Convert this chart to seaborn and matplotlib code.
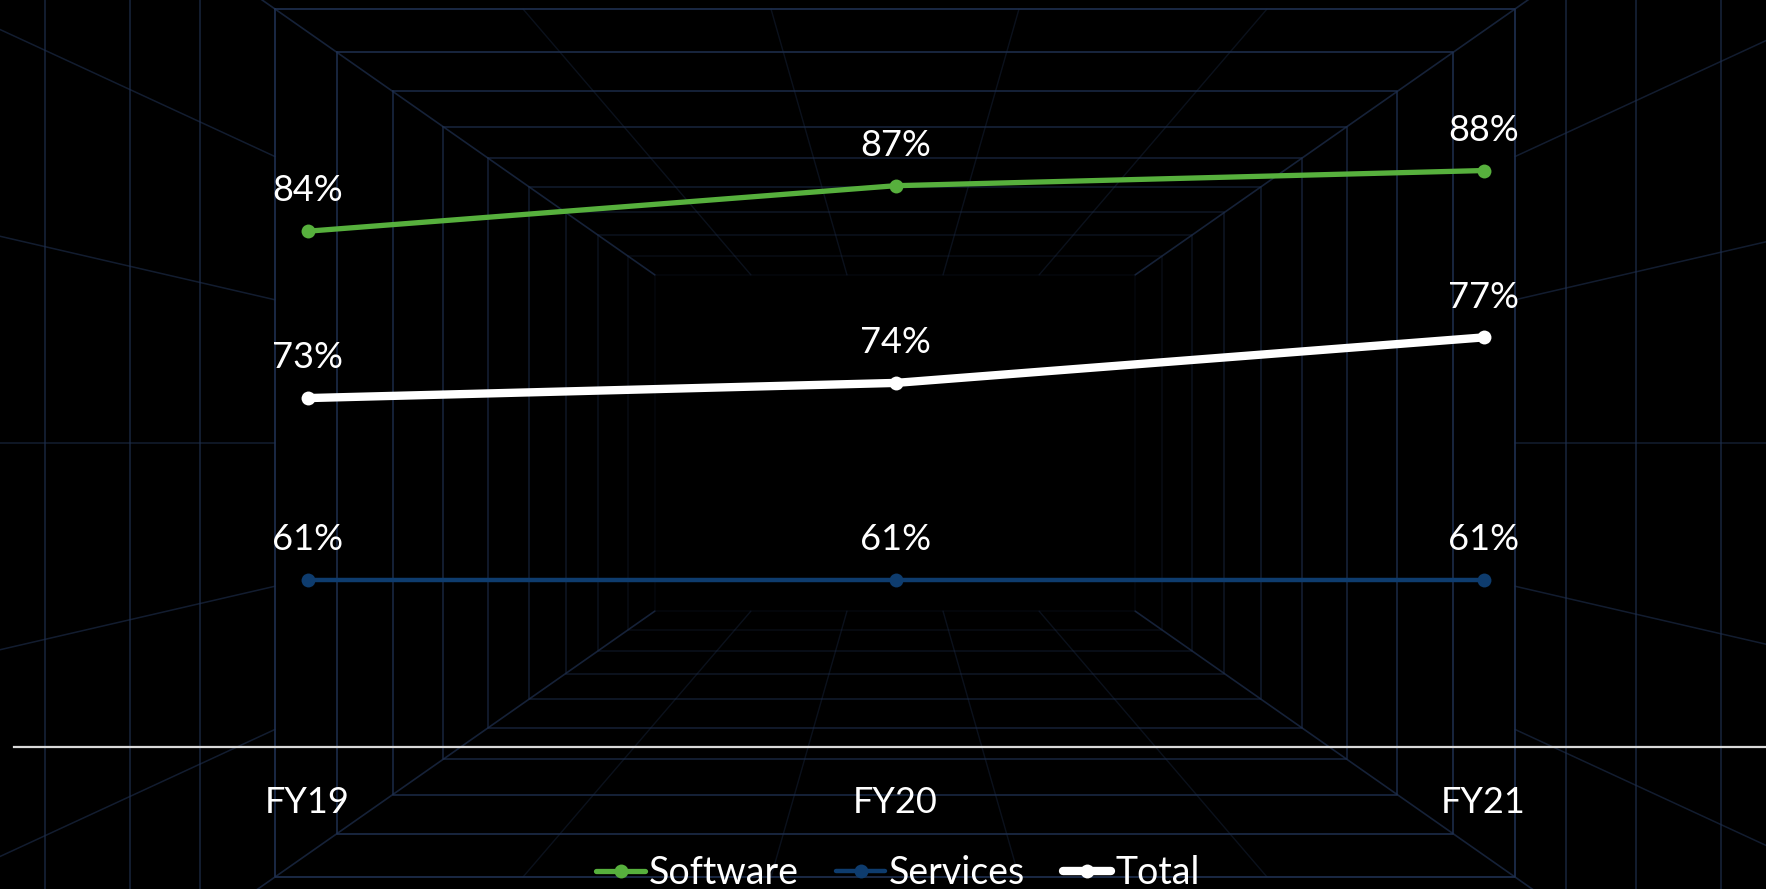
import numpy as np
import pandas as pd
import matplotlib
matplotlib.use("Agg")
import matplotlib.pyplot as plt
import seaborn as sns

# ---- data ----
years = ["FY19", "FY20", "FY21"]
software = [84, 87, 88]
services = [61, 61, 61]
total = [73, 74, 77]
series_names = ["Software", "Services", "Total"]

sns.set_theme(style="dark")
plt.rcParams["font.family"] = ["Lato", "DejaVu Sans"]

W, H = 1766, 889
fig = plt.figure(figsize=(W / 100, H / 100), dpi=100, facecolor="black")

# ---- decorative tunnel background ----
bg = fig.add_axes([0, 0, 1, 1], zorder=0)
bg.set_xlim(0, W)
bg.set_ylim(H, 0)
bg.set_facecolor("black")
bg.axis("off")
vx, vy = 895, 443
ratio = 0.70
gc = "#1f3050"
hw = 620.0
scales = []
while hw > 230:
    scales.append(hw)
    hw *= 0.9
n = len(scales)
for i, s in enumerate(scales):
    a = 0.95 * (1 - i / n) + 0.05
    bg.plot([vx - s, vx + s, vx + s, vx - s, vx - s],
            [vy - s * ratio, vy - s * ratio, vy + s * ratio, vy + s * ratio, vy - s * ratio],
            color=gc, lw=1.2, alpha=a)
inner = scales[-1]
outer = scales[0]
# corner diagonals and radial wall lines
for sx, sy in [(-1, -1), (1, -1), (-1, 1), (1, 1)]:
    bg.plot([vx + sx * inner, vx + sx * 1500], [vy + sy * inner * ratio, vy + sy * 1500 * ratio],
            color=gc, lw=1.2, alpha=0.7)
for t in [-0.6, -0.2, 0.2, 0.6]:
    for sx, sy in [(t, -1), (t, 1)]:
        bg.plot([vx + sx * inner, vx + sx * outer], [vy + sy * inner * ratio, vy + sy * outer * ratio],
                color=gc, lw=1.0, alpha=0.35)
for t in [-0.66, -0.33, 0.0, 0.33, 0.66]:
    for sx in [-1, 1]:
        bg.plot([vx + sx * outer, vx + sx * 1500], [vy + t * outer * ratio, vy + t * 1500 * ratio],
                color=gc, lw=1.1, alpha=0.6)
for x in [45, 130, 200, W - 45, W - 130, W - 200]:
    bg.plot([x, x], [0, H], color=gc, lw=1.2, alpha=0.7)

# ---- chart ----
ax = fig.add_axes([13.5 / W, (H - 747) / H, 1 - 13.5 / W, 747 / H], zorder=1)
ax.patch.set_alpha(0)

df = pd.DataFrame({
    "Year": years * 3,
    "Value": software + services + total,
    "Series": np.repeat(series_names, len(years)),
})
colors = {"Software": "#57B03D", "Services": "#0E3C6E", "Total": "#FFFFFF"}
widths = {"Software": 3.8, "Services": 3.2, "Total": 6.0}
msizes = {"Software": 10, "Services": 10, "Total": 10}

for name in series_names:
    sub = df[df["Series"] == name]
    sns.lineplot(data=sub, x="Year", y="Value", ax=ax, color=colors[name],
                 lw=widths[name], marker="o", markersize=msizes[name],
                 markeredgewidth=0, label=name, sort=False)
    for i, v in enumerate(sub["Value"]):
        ax.annotate(f"{v}%", (i, v), xytext=(0, 29), textcoords="offset points",
                    ha="center", va="center", color="white", fontsize=26)

ax.set_xlim(-0.5, -0.5 + (W - 13.5) / 588)
ax.set_ylim(50, 50 + 747 / 15.17)
ax.set_xlabel("")
ax.set_ylabel("")
ax.set_yticks([])
ax.set_xticks(range(len(years)))
ax.set_xticklabels(years, color="white", fontsize=26)
ax.tick_params(axis="x", length=0, pad=28)
ax.grid(False)
for sp in ["top", "right", "left"]:
    ax.spines[sp].set_visible(False)
ax.spines["bottom"].set_color("#d9d9d9")
ax.spines["bottom"].set_linewidth(1.6)

leg = ax.legend(loc="center", bbox_to_anchor=(898 / W, (H - 873) / H),
                bbox_transform=fig.transFigure, ncol=3, frameon=False,
                fontsize=27, handlelength=1.3, handletextpad=0.1,
                columnspacing=1.0, labelcolor="white")

fig.savefig("out.png", dpi=100, facecolor="black")
